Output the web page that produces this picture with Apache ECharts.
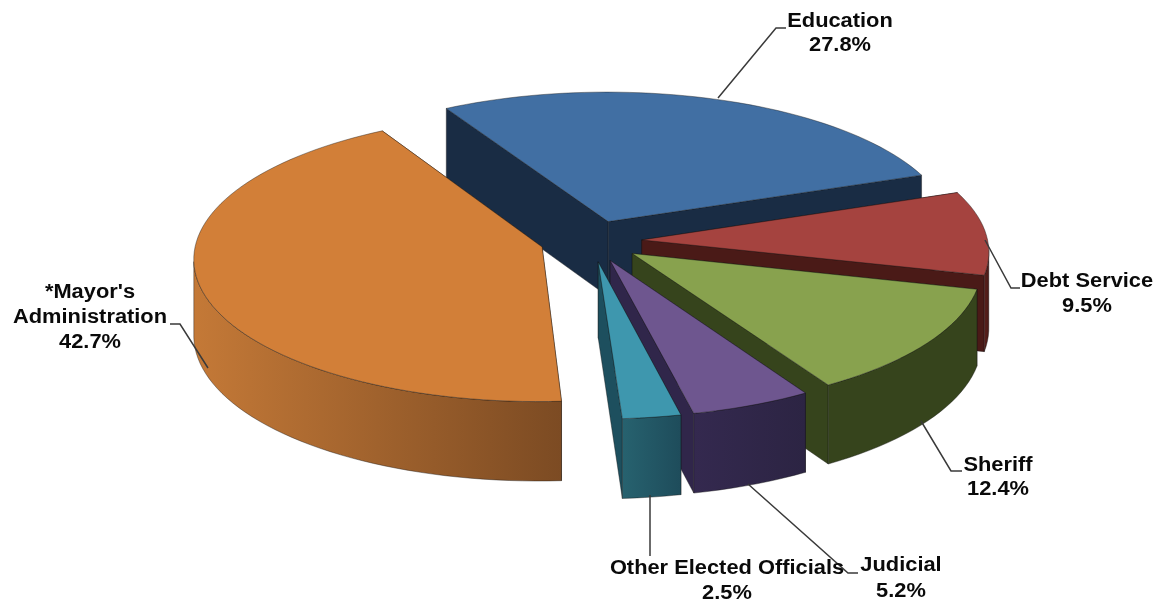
<!DOCTYPE html>
<html>
<head>
<meta charset="utf-8">
<style>html,body{margin:0;padding:0;background:#fff}#chart{width:1170px;height:603px}</style>
<script src="https://cdn.jsdelivr.net/npm/echarts@6/dist/echarts.min.js"></script>
</head>
<body>
<div id="chart"></div>
<script>
// Budget shares, clockwise from the first slice
const categories = ['Education', 'Debt Service', 'Sheriff', 'Judicial', 'Other Elected Officials', "*Mayor's\nAdministration"];
const shares = [27.8, 9.5, 12.4, 5.2, 2.5, 42.7];

// Slice colours: top face, radial wall, outer wall gradient (left to right)
const topColors = ['#416FA3', '#A5433F', '#88A24E', '#6E568F', '#3E97AE', '#D27F38'];
const sideColors = ['#192C44', '#4A1A17', '#36441C', '#30264A', '#1D4F5E', '#7F4E24'];
const wallStops = [
  ['#192C44', '#192C44'], ['#5A201C', '#4A1A17'], ['#36441C', '#36441C'],
  ['#34294F', '#2C2443'], ['#27626F', '#1E4C5B'], ['#C47937', '#7C4B23']
];

// Projection of the tilted pie onto the page
const view = { cx: 591, cy: 241, rx: 346, ry: 142, persp: 0.075, depth: 75.5, depthPersp: 0.05, explode: 0.147, startDeg: -30 };

// Label placement: line centres, leader line path
const labelLayout = [
  { x: 840, ys: [22, 46], leader: [[718, 98], [776, 28], [786, 28]] },
  { x: 1087, ys: [282, 307], leader: [[985, 240], [1011, 288], [1020, 288]] },
  { x: 998, ys: [466, 490], leader: [[921, 421], [951, 471], [962, 471]] },
  { x: 901, ys: [566, 592], leader: [[748, 484], [848, 573], [858, 573]] },
  { x: 727, ys: [569, 594], leader: [[650, 495], [650, 556]] },
  { x: 90, ys: [293, 318, 343], leader: [[208, 368], [180, 324], [170, 324]] }
];

const total = shares.reduce((a, b) => a + b, 0);
const rad = d => d * Math.PI / 180;

function sliceAngles(i) {
  let before = 0;
  for (let k = 0; k < i; k++) before += shares[k];
  const a0 = view.startDeg + before / total * 360;
  return [a0, a0 + shares[i] / total * 360];
}

function project(u, v, z) {
  const s = 1 / (1 + view.persp * v);
  const drop = z * view.depth * (1 - view.depthPersp * v);
  return [view.cx + view.rx * u * s, view.cy - view.ry * v * s + drop];
}

function renderSlice(params) {
  const i = params.dataIndex;
  const [a0, a1] = sliceAngles(i);
  const mid = rad((a0 + a1) / 2);
  const ou = view.explode * Math.sin(mid), ov = view.explode * Math.cos(mid);
  const rim = [];
  const steps = Math.max(8, Math.round((a1 - a0) / 2));
  for (let k = 0; k <= steps; k++) {
    const t = rad(a0 + (a1 - a0) * k / steps);
    rim.push([ou + Math.sin(t), ov + Math.cos(t)]);
  }
  const top = rim.map(p => project(p[0], p[1], 0));
  const low = rim.map(p => project(p[0], p[1], 1));
  const apexTop = project(ou, ov, 0), apexLow = project(ou, ov, 1);
  const edge = { stroke: 'rgba(20,20,20,0.5)', lineWidth: 0.8 };
  const poly = (points, fill) => ({
    type: 'polygon', silent: true,
    shape: { points },
    style: Object.assign({ fill }, edge)
  });
  const children = [
    poly([apexTop, top[0], low[0], apexLow], sideColors[i]),
    poly([apexTop, top[steps], low[steps], apexLow], sideColors[i])
  ];
  // Outer wall is only visible where the rim runs right to left on the page
  let first = -1, last = -1;
  for (let k = 0; k < steps; k++) {
    if (top[k + 1][0] < top[k][0]) { if (first < 0) first = k; last = k + 1; }
  }
  if (first >= 0) {
    const upper = top.slice(first, last + 1), lower = low.slice(first, last + 1).reverse();
    const fill = new echarts.graphic.LinearGradient(
      top[last][0], 0, top[first][0], 0,
      [{ offset: 0, color: wallStops[i][0] }, { offset: 1, color: wallStops[i][1] }], true);
    children.push(poly(upper.concat(lower), fill));
  }
  children.push(poly([apexTop].concat(top), topColors[i]));
  return { type: 'group', children };
}

function renderLabel(params) {
  const i = params.dataIndex;
  const layout = labelLayout[i];
  const lines = categories[i].split('\n').concat(shares[i].toFixed(1) + '%');
  const children = [{
    type: 'polyline', silent: true,
    shape: { points: layout.leader },
    style: { fill: 'none', stroke: '#3a3a3a', lineWidth: 1.5 }
  }];
  lines.forEach((text, n) => children.push({
    type: 'text', silent: true,
    x: layout.x, y: layout.ys[n], scaleX: 1.12,
    style: {
      text, x: 0, y: 0, align: 'center', verticalAlign: 'middle',
      font: 'bold 19.5px "Liberation Sans", Arial, sans-serif', fill: '#0a0a0a'
    }
  }));
  return { type: 'group', children };
}

const chart = echarts.init(document.getElementById('chart'), null, { renderer: 'canvas' });
chart.setOption({
  backgroundColor: '#fff',
  animation: false,
  series: [
    { type: 'custom', coordinateSystem: 'none', renderItem: renderSlice, data: shares, z: 2 },
    { type: 'custom', coordinateSystem: 'none', renderItem: renderLabel, data: shares, z: 3 }
  ]
});
</script>
</body>
</html>
